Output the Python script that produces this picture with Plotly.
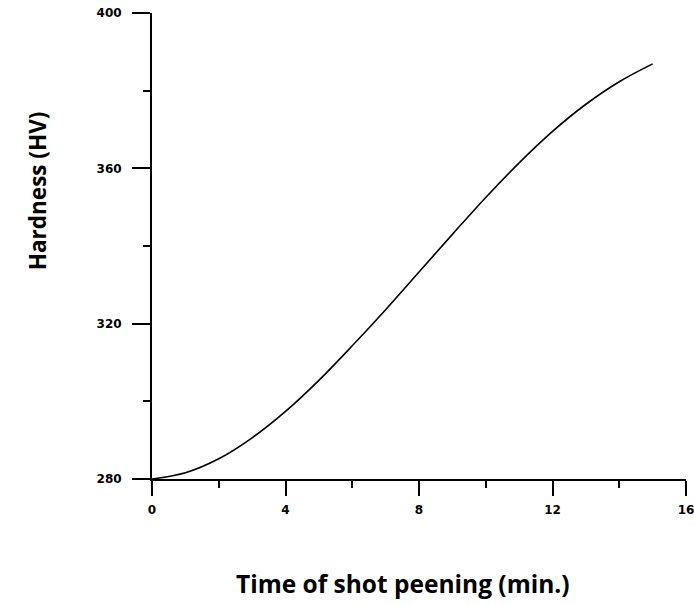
import plotly.graph_objects as go

time_min = [0, 1, 2, 3, 4, 5, 6, 7, 8, 9, 10, 11, 12, 13, 14, 15]
hardness_hv = [280.0, 281.6, 285.2, 290.6, 297.4, 305.4, 314.3, 323.6, 333.3,
               343.0, 352.5, 361.4, 369.5, 376.5, 382.3, 386.9]

x_ticks = [0, 4, 8, 12, 16]
y_ticks = [280, 320, 360, 400]

fig = go.Figure()
fig.add_trace(go.Scatter(
    x=time_min, y=hardness_hv, mode="lines",
    line=dict(color="black", width=1.6, shape="spline", smoothing=1.0),
    showlegend=False, hoverinfo="skip",
))

tickfont = dict(family="DejaVu Sans", size=12, color="black", weight="bold")

fig.update_layout(
    width=694, height=605,
    margin=dict(l=152, r=8, t=13, b=126),
    paper_bgcolor="white", plot_bgcolor="white",
    xaxis=dict(
        range=[0, 16], tickvals=x_ticks, ticktext=[str(v) for v in x_ticks],
        showgrid=False, zeroline=False, showline=True, linecolor="black", linewidth=2,
        ticks="outside", ticklen=15, tickwidth=2, tickcolor="black",
        minor=dict(dtick=2, ticks="outside", ticklen=7, tickwidth=2, tickcolor="black"),
        tickfont=tickfont, ticklabelstandoff=4, automargin=False,
        ticklabeloverflow="allow",
    ),
    yaxis=dict(
        range=[280, 400], tickvals=y_ticks, ticktext=[str(v) for v in y_ticks],
        showgrid=False, zeroline=False, showline=True, linecolor="black", linewidth=2,
        ticks="outside", ticklen=18, tickwidth=2, tickcolor="black",
        minor=dict(dtick=20, ticks="outside", ticklen=7, tickwidth=2, tickcolor="black"),
        tickfont=tickfont, ticklabelstandoff=8, automargin=False,
        ticklabeloverflow="allow",
    ),
    annotations=[
        dict(text="Time of shot peening (min.)", xref="paper", yref="paper",
             x=0.4696, y=-0.224, xanchor="center", yanchor="middle",
             showarrow=False,
             font=dict(family="Open Sans", size=24.5, color="black", weight="bold")),
        dict(text="Hardness (HV)", xref="paper", yref="paper",
             x=-0.215, y=0.618, xanchor="center", yanchor="middle",
             textangle=-90, showarrow=False,
             font=dict(family="Open Sans", size=22.5, color="black", weight="bold")),
    ],
)

fig.write_html("out.html")
